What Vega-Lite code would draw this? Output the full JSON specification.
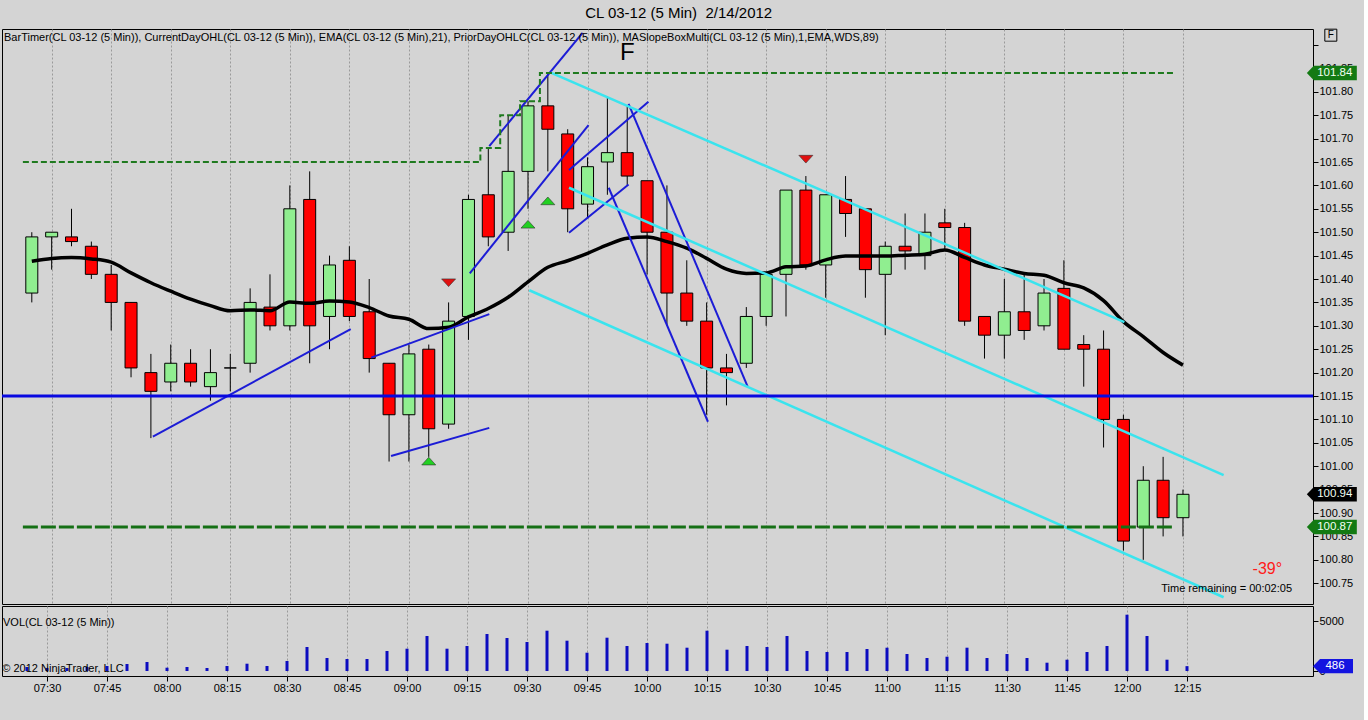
{
  "$schema": "https://vega.github.io/schema/vega-lite/v6.json",
  "background": "#d4d4d4",
  "padding": {"left": 0, "top": 5, "right": 6, "bottom": 28},
  "title": {"text": "CL 03-12 (5 Min)\u00a0 2/14/2012", "fontSize": 15, "fontWeight": "normal", "font": "Liberation Sans", "color": "#000", "anchor": "middle", "offset": 6},
  "spacing": 0,
  "datasets": {
    "bars": [
      {"t": "2012-02-14T07:25", "o": 101.37, "h": 101.50, "l": 101.35, "c": 101.49, "v": 400, "ema": 101.438},
      {"t": "2012-02-14T07:30", "o": 101.49, "h": 101.50, "l": 101.42, "c": 101.50, "v": 300, "ema": 101.444},
      {"t": "2012-02-14T07:35", "o": 101.49, "h": 101.55, "l": 101.47, "c": 101.48, "v": 300, "ema": 101.446},
      {"t": "2012-02-14T07:40", "o": 101.47, "h": 101.48, "l": 101.40, "c": 101.41, "v": 400, "ema": 101.443},
      {"t": "2012-02-14T07:45", "o": 101.41, "h": 101.43, "l": 101.29, "c": 101.35, "v": 500, "ema": 101.436},
      {"t": "2012-02-14T07:50", "o": 101.35, "h": 101.35, "l": 101.19, "c": 101.21, "v": 700, "ema": 101.413},
      {"t": "2012-02-14T07:55", "o": 101.20, "h": 101.24, "l": 101.06, "c": 101.16, "v": 900, "ema": 101.392},
      {"t": "2012-02-14T08:00", "o": 101.18, "h": 101.26, "l": 101.16, "c": 101.22, "v": 330, "ema": 101.374},
      {"t": "2012-02-14T08:05", "o": 101.22, "h": 101.25, "l": 101.17, "c": 101.18, "v": 400, "ema": 101.357},
      {"t": "2012-02-14T08:10", "o": 101.17, "h": 101.25, "l": 101.14, "c": 101.20, "v": 300, "ema": 101.343},
      {"t": "2012-02-14T08:15", "o": 101.21, "h": 101.24, "l": 101.16, "c": 101.21, "v": 500, "ema": 101.332},
      {"t": "2012-02-14T08:20", "o": 101.22, "h": 101.38, "l": 101.20, "c": 101.35, "v": 730, "ema": 101.334},
      {"t": "2012-02-14T08:25", "o": 101.34, "h": 101.41, "l": 101.29, "c": 101.30, "v": 500, "ema": 101.332},
      {"t": "2012-02-14T08:30", "o": 101.30, "h": 101.60, "l": 101.29, "c": 101.55, "v": 1000, "ema": 101.351},
      {"t": "2012-02-14T08:35", "o": 101.57, "h": 101.63, "l": 101.22, "c": 101.30, "v": 2400, "ema": 101.348},
      {"t": "2012-02-14T08:40", "o": 101.32, "h": 101.45, "l": 101.25, "c": 101.43, "v": 1300, "ema": 101.353},
      {"t": "2012-02-14T08:45", "o": 101.44, "h": 101.47, "l": 101.31, "c": 101.32, "v": 1200, "ema": 101.351},
      {"t": "2012-02-14T08:50", "o": 101.33, "h": 101.40, "l": 101.20, "c": 101.23, "v": 1200, "ema": 101.339},
      {"t": "2012-02-14T08:55", "o": 101.22, "h": 101.22, "l": 101.01, "c": 101.11, "v": 2000, "ema": 101.321},
      {"t": "2012-02-14T09:00", "o": 101.11, "h": 101.26, "l": 101.01, "c": 101.24, "v": 2230, "ema": 101.314},
      {"t": "2012-02-14T09:05", "o": 101.25, "h": 101.26, "l": 101.02, "c": 101.08, "v": 3500, "ema": 101.294},
      {"t": "2012-02-14T09:10", "o": 101.09, "h": 101.35, "l": 101.08, "c": 101.31, "v": 2230, "ema": 101.297},
      {"t": "2012-02-14T09:15", "o": 101.32, "h": 101.58, "l": 101.27, "c": 101.57, "v": 2500, "ema": 101.319},
      {"t": "2012-02-14T09:20", "o": 101.58, "h": 101.68, "l": 101.47, "c": 101.49, "v": 3700, "ema": 101.337},
      {"t": "2012-02-14T09:25", "o": 101.50, "h": 101.75, "l": 101.46, "c": 101.63, "v": 3300, "ema": 101.361},
      {"t": "2012-02-14T09:30", "o": 101.63, "h": 101.78, "l": 101.55, "c": 101.77, "v": 2900, "ema": 101.394},
      {"t": "2012-02-14T09:35", "o": 101.77, "h": 101.84, "l": 101.63, "c": 101.72, "v": 4030, "ema": 101.425},
      {"t": "2012-02-14T09:40", "o": 101.71, "h": 101.72, "l": 101.50, "c": 101.55, "v": 3030, "ema": 101.439},
      {"t": "2012-02-14T09:45", "o": 101.56, "h": 101.66, "l": 101.53, "c": 101.64, "v": 1830, "ema": 101.455},
      {"t": "2012-02-14T09:50", "o": 101.65, "h": 101.79, "l": 101.58, "c": 101.67, "v": 3330, "ema": 101.473},
      {"t": "2012-02-14T09:55", "o": 101.67, "h": 101.77, "l": 101.60, "c": 101.62, "v": 2500, "ema": 101.487},
      {"t": "2012-02-14T10:00", "o": 101.61, "h": 101.61, "l": 101.41, "c": 101.50, "v": 2800, "ema": 101.490},
      {"t": "2012-02-14T10:05", "o": 101.50, "h": 101.60, "l": 101.30, "c": 101.37, "v": 2730, "ema": 101.480},
      {"t": "2012-02-14T10:10", "o": 101.37, "h": 101.44, "l": 101.30, "c": 101.31, "v": 2330, "ema": 101.466},
      {"t": "2012-02-14T10:15", "o": 101.31, "h": 101.35, "l": 101.11, "c": 101.21, "v": 4030, "ema": 101.444},
      {"t": "2012-02-14T10:20", "o": 101.21, "h": 101.24, "l": 101.13, "c": 101.20, "v": 2130, "ema": 101.421},
      {"t": "2012-02-14T10:25", "o": 101.22, "h": 101.34, "l": 101.21, "c": 101.32, "v": 2500, "ema": 101.412},
      {"t": "2012-02-14T10:30", "o": 101.32, "h": 101.41, "l": 101.30, "c": 101.41, "v": 2400, "ema": 101.413},
      {"t": "2012-02-14T10:35", "o": 101.41, "h": 101.59, "l": 101.32, "c": 101.59, "v": 3500, "ema": 101.426},
      {"t": "2012-02-14T10:40", "o": 101.59, "h": 101.62, "l": 101.42, "c": 101.43, "v": 2000, "ema": 101.428},
      {"t": "2012-02-14T10:45", "o": 101.43, "h": 101.58, "l": 101.36, "c": 101.58, "v": 1900, "ema": 101.441},
      {"t": "2012-02-14T10:50", "o": 101.57, "h": 101.62, "l": 101.49, "c": 101.54, "v": 1900, "ema": 101.449},
      {"t": "2012-02-14T10:55", "o": 101.55, "h": 101.55, "l": 101.36, "c": 101.42, "v": 2200, "ema": 101.449},
      {"t": "2012-02-14T11:00", "o": 101.41, "h": 101.48, "l": 101.28, "c": 101.47, "v": 2330, "ema": 101.449},
      {"t": "2012-02-14T11:05", "o": 101.47, "h": 101.54, "l": 101.42, "c": 101.46, "v": 1700, "ema": 101.451},
      {"t": "2012-02-14T11:10", "o": 101.45, "h": 101.54, "l": 101.42, "c": 101.50, "v": 1300, "ema": 101.453},
      {"t": "2012-02-14T11:15", "o": 101.52, "h": 101.55, "l": 101.46, "c": 101.51, "v": 1430, "ema": 101.462},
      {"t": "2012-02-14T11:20", "o": 101.51, "h": 101.52, "l": 101.30, "c": 101.31, "v": 2330, "ema": 101.446},
      {"t": "2012-02-14T11:25", "o": 101.32, "h": 101.32, "l": 101.23, "c": 101.28, "v": 1300, "ema": 101.430},
      {"t": "2012-02-14T11:30", "o": 101.28, "h": 101.40, "l": 101.23, "c": 101.33, "v": 1700, "ema": 101.421},
      {"t": "2012-02-14T11:35", "o": 101.33, "h": 101.41, "l": 101.27, "c": 101.29, "v": 1300, "ema": 101.412},
      {"t": "2012-02-14T11:40", "o": 101.30, "h": 101.40, "l": 101.29, "c": 101.37, "v": 830, "ema": 101.408},
      {"t": "2012-02-14T11:45", "o": 101.38, "h": 101.44, "l": 101.25, "c": 101.25, "v": 1130, "ema": 101.392},
      {"t": "2012-02-14T11:50", "o": 101.26, "h": 101.28, "l": 101.17, "c": 101.25, "v": 1900, "ema": 101.381},
      {"t": "2012-02-14T11:55", "o": 101.25, "h": 101.29, "l": 101.04, "c": 101.10, "v": 2500, "ema": 101.354},
      {"t": "2012-02-14T12:00", "o": 101.10, "h": 101.11, "l": 100.82, "c": 100.84, "v": 5630, "ema": 101.309},
      {"t": "2012-02-14T12:05", "o": 100.87, "h": 101.00, "l": 100.80, "c": 100.97, "v": 3500, "ema": 101.277},
      {"t": "2012-02-14T12:10", "o": 100.97, "h": 101.02, "l": 100.85, "c": 100.89, "v": 1130, "ema": 101.243},
      {"t": "2012-02-14T12:15", "o": 100.89, "h": 100.95, "l": 100.85, "c": 100.94, "v": 486, "ema": 101.216}
    ],
    "trend": [
      {"seg": "b1", "kind": "blue", "t": "2012-02-14T07:55:30", "p": 101.063},
      {"seg": "b1", "kind": "blue", "t": "2012-02-14T08:45:20", "p": 101.293},
      {"seg": "b2", "kind": "blue", "t": "2012-02-14T08:50:30", "p": 101.232},
      {"seg": "b2", "kind": "blue", "t": "2012-02-14T09:20:15", "p": 101.325},
      {"seg": "b3", "kind": "blue", "t": "2012-02-14T08:55:30", "p": 101.022},
      {"seg": "b3", "kind": "blue", "t": "2012-02-14T09:20:15", "p": 101.082},
      {"seg": "b4", "kind": "blue", "t": "2012-02-14T09:15:20", "p": 101.412},
      {"seg": "b4", "kind": "blue", "t": "2012-02-14T09:45:15", "p": 101.729},
      {"seg": "b5", "kind": "blue", "t": "2012-02-14T09:20:15", "p": 101.684},
      {"seg": "b5", "kind": "blue", "t": "2012-02-14T09:43:45", "p": 101.926},
      {"seg": "b6", "kind": "blue", "t": "2012-02-14T09:40:20", "p": 101.633},
      {"seg": "b6", "kind": "blue", "t": "2012-02-14T10:00:20", "p": 101.779},
      {"seg": "b7", "kind": "blue", "t": "2012-02-14T09:40:20", "p": 101.499},
      {"seg": "b7", "kind": "blue", "t": "2012-02-14T09:55:20", "p": 101.602},
      {"seg": "b8", "kind": "blue", "t": "2012-02-14T09:50:20", "p": 101.595},
      {"seg": "b8", "kind": "blue", "t": "2012-02-14T10:15:20", "p": 101.095},
      {"seg": "b9", "kind": "blue", "t": "2012-02-14T09:55:20", "p": 101.774},
      {"seg": "b9", "kind": "blue", "t": "2012-02-14T10:25:20", "p": 101.170},
      {"seg": "c1", "kind": "cyan", "t": "2012-02-14T09:35:45", "p": 101.841},
      {"seg": "c1", "kind": "cyan", "t": "2012-02-14T12:00:15", "p": 101.308},
      {"seg": "c2", "kind": "cyan", "t": "2012-02-14T09:40:20", "p": 101.595},
      {"seg": "c2", "kind": "cyan", "t": "2012-02-14T12:25:15", "p": 100.981},
      {"seg": "c3", "kind": "cyan", "t": "2012-02-14T09:30:20", "p": 101.376},
      {"seg": "c3", "kind": "cyan", "t": "2012-02-14T12:25:15", "p": 100.720}
    ],
    "dayhigh": [
      {"t": "2012-02-14T07:22:45", "p": 101.65},
      {"t": "2012-02-14T09:18:00", "p": 101.68},
      {"t": "2012-02-14T09:23:00", "p": 101.75},
      {"t": "2012-02-14T09:28:00", "p": 101.78},
      {"t": "2012-02-14T09:33:00", "p": 101.84},
      {"t": "2012-02-14T12:12:45", "p": 101.84}
    ],
    "daylow": [
      {"t": "2012-02-14T07:22:45", "t2": "2012-02-14T12:12:45", "p": 100.87}
    ],
    "prior": [
      {"name": "prior close", "p": 101.15}
    ],
    "signals": [
      {"t": "2012-02-14T09:05", "p": 101.011, "dir": "up"},
      {"t": "2012-02-14T09:10", "p": 101.392, "dir": "down"},
      {"t": "2012-02-14T09:30", "p": 101.517, "dir": "up"},
      {"t": "2012-02-14T09:35", "p": 101.567, "dir": "up"},
      {"t": "2012-02-14T10:40", "p": 101.656, "dir": "down"}
    ],
    "notes": [
      {"kind": "legend", "t": "2012-02-14T07:18:00", "p": 101.915, "text": "BarTimer(CL 03-12 (5 Min)), CurrentDayOHL(CL 03-12 (5 Min)), EMA(CL 03-12 (5 Min),21), PriorDayOHLC(CL 03-12 (5 Min)), MASlopeBoxMulti(CL 03-12 (5 Min),1,EMA,WDS,89)"},
      {"kind": "big", "t": "2012-02-14T09:55", "p": 101.883, "text": "F"},
      {"kind": "angle", "t": "2012-02-14T12:36:15", "p": 100.780, "text": "-39°"},
      {"kind": "timer", "t": "2012-02-14T12:26:00", "p": 100.738, "text": "Time remaining = 00:02:05"},
      {"kind": "fbox", "t": "2012-02-14T12:52:15", "p": 101.921, "text": "F"}
    ],
    "markers": [
      {"kind": "high", "t": "2012-02-14T12:52:30", "p": 101.84, "label": "101.84"},
      {"kind": "last", "t": "2012-02-14T12:52:30", "p": 100.94, "label": "100.94"},
      {"kind": "low", "t": "2012-02-14T12:52:30", "p": 100.87, "label": "100.87"}
    ],
    "volnotes": [
      {"t": "2012-02-14T07:19:00", "v": 4800, "text": "VOL(CL 03-12 (5 Min))"},
      {"t": "2012-02-14T07:18:50", "v": 200, "text": "© 2012 NinjaTrader, LLC"}
    ],
    "volmarker": [
      {"t": "2012-02-14T12:51:30", "v": 486, "label": "486"}
    ]
  },
  "vconcat": [
    {
      "width": 1311,
      "height": 575,
      "layer": [
        {
          "data": {"name": "bars"},
          "mark": {"type": "rule", "color": "#000", "strokeWidth": 1},
          "encoding": {
            "x": {
              "field": "t", "type": "temporal",
              "scale": {"domain": [
                {"year": 2012, "month": 2, "date": 14, "hours": 7, "minutes": 18, "seconds": 45},
                {"year": 2012, "month": 2, "date": 14, "hours": 12, "minutes": 46, "seconds": 30}
              ]},
              "axis": {
                "values": [
                  {"year": 2012, "month": 2, "date": 14, "hours": 7, "minutes": 30},
                  {"year": 2012, "month": 2, "date": 14, "hours": 7, "minutes": 45},
                  {"year": 2012, "month": 2, "date": 14, "hours": 8, "minutes": 0},
                  {"year": 2012, "month": 2, "date": 14, "hours": 8, "minutes": 15},
                  {"year": 2012, "month": 2, "date": 14, "hours": 8, "minutes": 30},
                  {"year": 2012, "month": 2, "date": 14, "hours": 8, "minutes": 45},
                  {"year": 2012, "month": 2, "date": 14, "hours": 9, "minutes": 0},
                  {"year": 2012, "month": 2, "date": 14, "hours": 9, "minutes": 15},
                  {"year": 2012, "month": 2, "date": 14, "hours": 9, "minutes": 30},
                  {"year": 2012, "month": 2, "date": 14, "hours": 9, "minutes": 45},
                  {"year": 2012, "month": 2, "date": 14, "hours": 10, "minutes": 0},
                  {"year": 2012, "month": 2, "date": 14, "hours": 10, "minutes": 15},
                  {"year": 2012, "month": 2, "date": 14, "hours": 10, "minutes": 30},
                  {"year": 2012, "month": 2, "date": 14, "hours": 10, "minutes": 45},
                  {"year": 2012, "month": 2, "date": 14, "hours": 11, "minutes": 0},
                  {"year": 2012, "month": 2, "date": 14, "hours": 11, "minutes": 15},
                  {"year": 2012, "month": 2, "date": 14, "hours": 11, "minutes": 30},
                  {"year": 2012, "month": 2, "date": 14, "hours": 11, "minutes": 45},
                  {"year": 2012, "month": 2, "date": 14, "hours": 12, "minutes": 0},
                  {"year": 2012, "month": 2, "date": 14, "hours": 12, "minutes": 15}
                ],
                "tickCount": 60,
                "labels": false, "ticks": false, "domain": false, "title": null,
                "grid": true, "gridDash": [2, 2], "gridColor": "#9a9a9a", "gridWidth": 1
              }
            },
            "y": {
              "field": "l", "type": "quantitative",
              "scale": {"domain": [100.7056, 101.9342], "nice": false, "zero": false},
              "axis": {
                "orient": "right", "title": null, "grid": false, "domain": false,
                "values": [100.75, 100.8, 100.85, 100.9, 100.95, 101.0, 101.05, 101.1, 101.15, 101.2, 101.25, 101.3, 101.35, 101.4, 101.45, 101.5, 101.55, 101.6, 101.65, 101.7, 101.75, 101.8, 101.85, 101.9],
                "tickCount": 60,
                "labelExpr": "datum.value > 101.88 ? '' : format(datum.value, '.2f')",
                "labelOverlap": false, "labelBound": false, "labelFlush": false,
                "tickSize": 5, "labelPadding": 1
              }
            },
            "y2": {"field": "h"}
          }
        },
        {
          "data": {"name": "bars"},
          "mark": {"type": "bar", "size": 12, "stroke": "#000", "strokeWidth": 1},
          "encoding": {
            "x": {"field": "t", "type": "temporal"},
            "y": {"field": "o", "type": "quantitative"},
            "y2": {"field": "c"},
            "fill": {"condition": {"test": "datum.c >= datum.o", "value": "#90ee90"}, "value": "#ff0000"}
          }
        },
        {
          "data": {"name": "bars"},
          "mark": {"type": "line", "color": "#000", "strokeWidth": 3.5, "interpolate": "monotone"},
          "encoding": {
            "x": {"field": "t", "type": "temporal"},
            "y": {"field": "ema", "type": "quantitative"}
          }
        },
        {
          "data": {"name": "trend"},
          "transform": [{"filter": "datum.kind === 'blue'"}],
          "mark": {"type": "line", "color": "#1c1cd6", "strokeWidth": 2},
          "encoding": {
            "x": {"field": "t", "type": "temporal"},
            "y": {"field": "p", "type": "quantitative"},
            "detail": {"field": "seg", "type": "nominal"}
          }
        },
        {
          "data": {"name": "trend"},
          "transform": [{"filter": "datum.kind === 'cyan'"}],
          "mark": {"type": "line", "color": "#3ae4ee", "strokeWidth": 2.5},
          "encoding": {
            "x": {"field": "t", "type": "temporal"},
            "y": {"field": "p", "type": "quantitative"},
            "detail": {"field": "seg", "type": "nominal"}
          }
        },
        {
          "data": {"name": "dayhigh"},
          "mark": {"type": "line", "interpolate": "step-after", "color": "#1f7a1f", "strokeWidth": 2, "strokeDash": [6, 3]},
          "encoding": {
            "x": {"field": "t", "type": "temporal"},
            "y": {"field": "p", "type": "quantitative"}
          }
        },
        {
          "data": {"name": "daylow"},
          "mark": {"type": "rule", "color": "#157015", "strokeWidth": 3, "strokeDash": [15, 3]},
          "encoding": {
            "x": {"field": "t", "type": "temporal"},
            "x2": {"field": "t2"},
            "y": {"field": "p", "type": "quantitative"}
          }
        },
        {
          "data": {"name": "prior"},
          "mark": {"type": "rule", "color": "#0808e0", "strokeWidth": 3},
          "encoding": {
            "y": {"field": "p", "type": "quantitative"}
          }
        },
        {
          "data": {"name": "signals"},
          "mark": {"type": "point", "filled": true, "size": 196, "opacity": 1, "stroke": "#303030", "strokeWidth": 0.6},
          "encoding": {
            "x": {"field": "t", "type": "temporal"},
            "y": {"field": "p", "type": "quantitative"},
            "shape": {"field": "dir", "type": "nominal", "legend": null,
              "scale": {"domain": ["up", "down"], "range": ["M-1,0.55L1,0.55L0,-0.55Z", "M-1,-0.55L1,-0.55L0,0.55Z"]}},
            "fill": {"condition": {"test": "datum.dir === 'up'", "value": "#22d022"}, "value": "#e01010"}
          }
        },
        {
          "data": {"name": "notes"},
          "transform": [{"filter": "datum.kind === 'legend'"}],
          "mark": {"type": "text", "align": "left", "baseline": "middle", "fontSize": 11, "color": "#000"},
          "encoding": {
            "x": {"field": "t", "type": "temporal"},
            "y": {"field": "p", "type": "quantitative"},
            "text": {"field": "text"}
          }
        },
        {
          "data": {"name": "notes"},
          "transform": [{"filter": "datum.kind === 'big'"}],
          "mark": {"type": "text", "align": "center", "baseline": "middle", "fontSize": 24, "color": "#000"},
          "encoding": {
            "x": {"field": "t", "type": "temporal"},
            "y": {"field": "p", "type": "quantitative"},
            "text": {"field": "text"}
          }
        },
        {
          "data": {"name": "notes"},
          "transform": [{"filter": "datum.kind === 'angle'"}],
          "mark": {"type": "text", "align": "center", "baseline": "middle", "fontSize": 16, "color": "#ff1a1a"},
          "encoding": {
            "x": {"field": "t", "type": "temporal"},
            "y": {"field": "p", "type": "quantitative"},
            "text": {"field": "text"}
          }
        },
        {
          "data": {"name": "notes"},
          "transform": [{"filter": "datum.kind === 'timer'"}],
          "mark": {"type": "text", "align": "center", "baseline": "middle", "fontSize": 11, "color": "#000"},
          "encoding": {
            "x": {"field": "t", "type": "temporal"},
            "y": {"field": "p", "type": "quantitative"},
            "text": {"field": "text"}
          }
        },
        {
          "data": {"name": "notes"},
          "transform": [{"filter": "datum.kind === 'fbox'"}],
          "mark": {"type": "point", "shape": "square", "size": 144, "filled": false, "stroke": "#000", "strokeWidth": 1, "opacity": 1},
          "encoding": {
            "x": {"field": "t", "type": "temporal"},
            "y": {"field": "p", "type": "quantitative"}
          }
        },
        {
          "data": {"name": "notes"},
          "transform": [{"filter": "datum.kind === 'fbox'"}],
          "mark": {"type": "text", "align": "center", "baseline": "middle", "fontSize": 10, "color": "#000"},
          "encoding": {
            "x": {"field": "t", "type": "temporal"},
            "y": {"field": "p", "type": "quantitative"},
            "text": {"field": "text"}
          }
        },
        {
          "data": {"name": "markers"},
          "mark": {"type": "point", "filled": true, "size": 2500, "opacity": 1, "strokeWidth": 0},
          "encoding": {
            "x": {"field": "t", "type": "temporal"},
            "y": {"field": "p", "type": "quantitative"},
            "shape": {"value": "M-1,0L-0.72,-0.29L1,-0.29L1,0.29L-0.72,0.29Z"},
            "fill": {"condition": {"test": "datum.kind === 'last'", "value": "#000000"}, "value": "#137a13"}
          }
        },
        {
          "data": {"name": "markers"},
          "mark": {"type": "text", "align": "center", "baseline": "middle", "fontSize": 11.5, "dx": 3, "color": "#f2fff2"},
          "encoding": {
            "x": {"field": "t", "type": "temporal"},
            "y": {"field": "p", "type": "quantitative"},
            "text": {"field": "label"}
          }
        }
      ]
    },
    {
      "width": 1311,
      "height": 70,
      "layer": [
        {
          "data": {"name": "bars"},
          "mark": {"type": "rule", "color": "#0c0cc0", "strokeWidth": 3},
          "encoding": {
            "x": {
              "field": "t", "type": "temporal",
              "scale": {"domain": [
                {"year": 2012, "month": 2, "date": 14, "hours": 7, "minutes": 18, "seconds": 45},
                {"year": 2012, "month": 2, "date": 14, "hours": 12, "minutes": 46, "seconds": 30}
              ]},
              "axis": {
                "values": [
                  {"year": 2012, "month": 2, "date": 14, "hours": 7, "minutes": 30},
                  {"year": 2012, "month": 2, "date": 14, "hours": 7, "minutes": 45},
                  {"year": 2012, "month": 2, "date": 14, "hours": 8, "minutes": 0},
                  {"year": 2012, "month": 2, "date": 14, "hours": 8, "minutes": 15},
                  {"year": 2012, "month": 2, "date": 14, "hours": 8, "minutes": 30},
                  {"year": 2012, "month": 2, "date": 14, "hours": 8, "minutes": 45},
                  {"year": 2012, "month": 2, "date": 14, "hours": 9, "minutes": 0},
                  {"year": 2012, "month": 2, "date": 14, "hours": 9, "minutes": 15},
                  {"year": 2012, "month": 2, "date": 14, "hours": 9, "minutes": 30},
                  {"year": 2012, "month": 2, "date": 14, "hours": 9, "minutes": 45},
                  {"year": 2012, "month": 2, "date": 14, "hours": 10, "minutes": 0},
                  {"year": 2012, "month": 2, "date": 14, "hours": 10, "minutes": 15},
                  {"year": 2012, "month": 2, "date": 14, "hours": 10, "minutes": 30},
                  {"year": 2012, "month": 2, "date": 14, "hours": 10, "minutes": 45},
                  {"year": 2012, "month": 2, "date": 14, "hours": 11, "minutes": 0},
                  {"year": 2012, "month": 2, "date": 14, "hours": 11, "minutes": 15},
                  {"year": 2012, "month": 2, "date": 14, "hours": 11, "minutes": 30},
                  {"year": 2012, "month": 2, "date": 14, "hours": 11, "minutes": 45},
                  {"year": 2012, "month": 2, "date": 14, "hours": 12, "minutes": 0},
                  {"year": 2012, "month": 2, "date": 14, "hours": 12, "minutes": 15}
                ],
                "tickCount": 60,
                "format": "%H:%M", "title": null, "domain": false,
                "tickSize": 5, "labelPadding": 1, "labelOverlap": false,
                "grid": true, "gridDash": [2, 2], "gridColor": "#9a9a9a", "gridWidth": 1
              }
            },
            "y": {
              "field": "v", "type": "quantitative",
              "scale": {"domain": [-500, 6500], "nice": false, "zero": false},
              "axis": {"orient": "right", "title": null, "grid": false, "domain": false, "values": [0, 5000], "tickCount": 10, "format": "d", "tickSize": 5, "labelPadding": 1}
            },
            "y2": {"datum": 0}
          }
        },
        {
          "data": {"name": "volnotes"},
          "mark": {"type": "text", "align": "left", "baseline": "middle", "fontSize": 11, "color": "#000"},
          "encoding": {
            "x": {"field": "t", "type": "temporal"},
            "y": {"field": "v", "type": "quantitative"},
            "text": {"field": "text"}
          }
        },
        {
          "data": {"name": "volmarker"},
          "mark": {"type": "point", "filled": true, "size": 1600, "opacity": 1, "strokeWidth": 0, "color": "#1414e0"},
          "encoding": {
            "x": {"field": "t", "type": "temporal"},
            "y": {"field": "v", "type": "quantitative"},
            "shape": {"value": "M-1,0L-0.65,-0.36L1,-0.36L1,0.36L-0.65,0.36Z"}
          }
        },
        {
          "data": {"name": "volmarker"},
          "mark": {"type": "text", "align": "center", "baseline": "middle", "fontSize": 11.5, "dx": 2, "color": "#ffffff"},
          "encoding": {
            "x": {"field": "t", "type": "temporal"},
            "y": {"field": "v", "type": "quantitative"},
            "text": {"field": "label"}
          }
        }
      ]
    }
  ],
  "config": {
    "font": "Liberation Sans",
    "view": {"stroke": "#000", "strokeWidth": 1, "fill": "#d4d4d4"},
    "axis": {"labelFont": "Liberation Sans", "labelFontSize": 11, "labelColor": "#000", "tickColor": "#000", "domainColor": "#000", "grid": false, "labelOverlap": false},
    "text": {"font": "Liberation Sans"}
  }
}
